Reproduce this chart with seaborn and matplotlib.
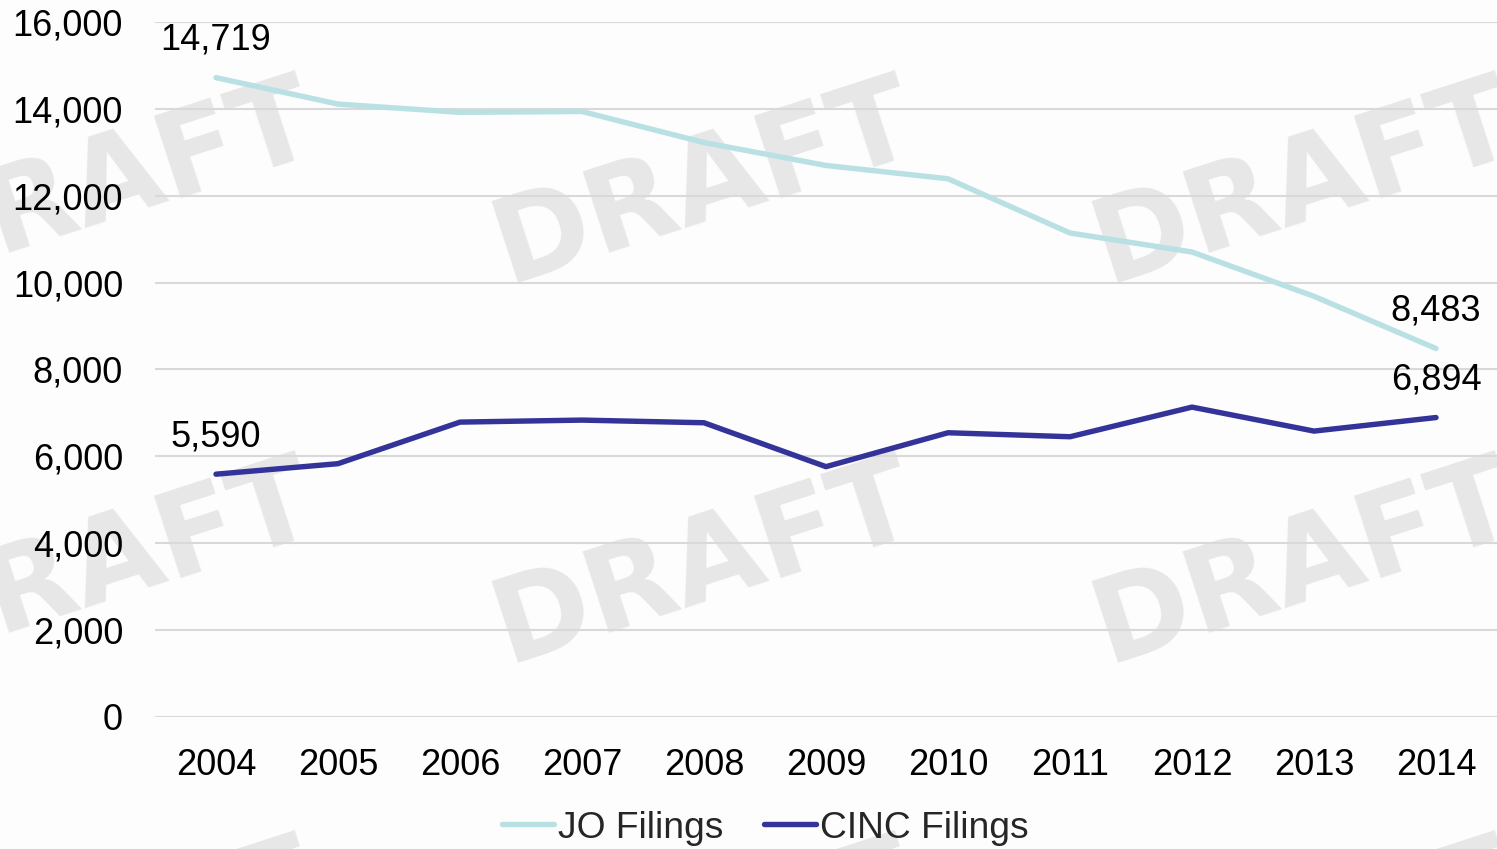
import matplotlib
matplotlib.use("Agg")
import matplotlib.pyplot as plt
from matplotlib import font_manager
from matplotlib.ticker import FuncFormatter, MultipleLocator
import pandas as pd
import seaborn as sns

# Annual filings
years = [2004, 2005, 2006, 2007, 2008, 2009, 2010, 2011, 2012, 2013, 2014]
jo_filings = [14719, 14110, 13920, 13940, 13225, 12697, 12391, 11142, 10705, 9685, 8483]
cinc_filings = [5590, 5832, 6789, 6835, 6774, 5763, 6544, 6452, 7134, 6582, 6894]
series_names = ["JO Filings", "CINC Filings"]
series_colors = ["#b9e1e4", "#333399"]

df = pd.DataFrame({
    "Year": years * 2,
    "Filings": jo_filings + cinc_filings,
    "Series": [series_names[0]] * len(years) + [series_names[1]] * len(years),
})

sns.set_theme(style="white")
plt.rcParams["font.family"] = ["Liberation Sans", "DejaVu Sans"]

fig = plt.figure(figsize=(14.97, 8.49), dpi=100, facecolor="#fdfdfd")
ax = fig.add_axes([155 / 1497, 1 - 717 / 849, 1 - 155 / 1497, (717 - 22) / 849])
ax.set_facecolor("none")

# Tiled "DRAFT" watermark behind the axes
available = {f.name for f in font_manager.fontManager.ttflist}
if "Liberation Sans Narrow" in available:
    wm_family, wm_size = "Liberation Sans Narrow", 116
else:
    wm_family, wm_size = "DejaVu Sans", 84
for cy in (185, 565, 945):
    for cx in (105, 705, 1305):
        fig.text(cx / 1497, 1 - cy / 849, "DRAFT", family=wm_family, weight="bold",
                 fontsize=wm_size, color="#e7e7e7", rotation=18,
                 rotation_mode="anchor", ha="center", va="center", zorder=-5)

sns.lineplot(data=df, x="Year", y="Filings", hue="Series", hue_order=series_names,
             palette=series_colors, linewidth=3.9, ax=ax, legend=False,
             solid_capstyle="round", zorder=3)

ax.set_xlim(2003.5, 2014.5)
ax.set_ylim(0, 16000)
ax.yaxis.set_major_locator(MultipleLocator(2000))
ax.yaxis.set_major_formatter(FuncFormatter(lambda v, p: f"{int(v):,}"))
ax.set_xticks(years)
ax.set_xticklabels([str(y) for y in years])
ax.grid(axis="y", color="#d9d9d9", linewidth=1.5, zorder=0)
ax.grid(axis="x", visible=False)
for s in ax.spines.values():
    s.set_visible(False)
ax.tick_params(axis="y", length=0, pad=23, labelsize=26, labelcolor="black")
ax.tick_params(axis="x", length=0, pad=22, labelsize=26, labelcolor="black")
ax.set_xlabel("")
ax.set_ylabel("")

# End-point value labels
for vals in (jo_filings, cinc_filings):
    for i in (0, len(years) - 1):
        ax.annotate(f"{vals[i]:,}", (years[i], vals[i]), xytext=(0, 27),
                    textcoords="offset points", ha="center", va="center",
                    fontsize=26, color="black", zorder=4)

handles = [plt.Line2D([], [], color=c, linewidth=3.9, solid_capstyle="round")
           for c in series_colors]
fig.legend(handles, series_names, loc="center", bbox_to_anchor=(765 / 1497, 1 - 828 / 849),
           ncol=2, frameon=False, fontsize=26.8, handlelength=1.4, handletextpad=0.1,
           columnspacing=1.1, borderaxespad=0, borderpad=0)

fig.savefig("out.png", dpi=100, facecolor=fig.get_facecolor())
